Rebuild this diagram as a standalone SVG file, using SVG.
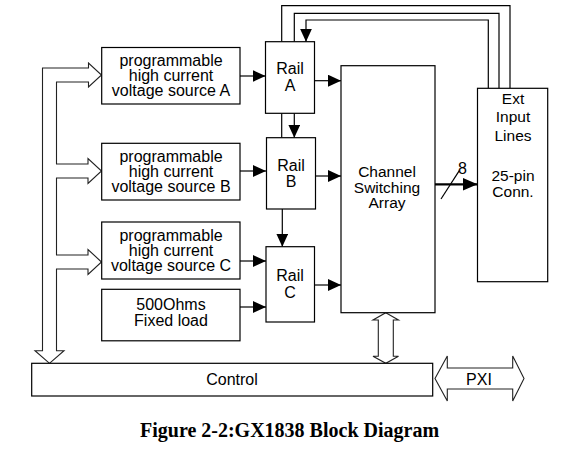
<svg xmlns="http://www.w3.org/2000/svg" width="572" height="460" viewBox="0 0 572 460">
<defs>
<style>
.box{fill:#fff;stroke:#000;stroke-width:1.2}
.ln{fill:none;stroke:#000;stroke-width:1.2}
.hol{fill:#fff;stroke:#222;stroke-width:1.1;stroke-linejoin:miter}
.t{font-family:"Liberation Sans",Arial,sans-serif;font-size:16px;fill:#000;text-anchor:middle}
.cap{font-family:"Liberation Serif","Times New Roman",serif;font-size:20px;font-weight:bold;fill:#000}
</style>
<marker id="ah" markerWidth="13" markerHeight="12" refX="13" refY="6" orient="auto" markerUnits="userSpaceOnUse"><path d="M0,0 L13,6 L0,12 z" fill="#000"/></marker>
<marker id="ah2" markerWidth="15" markerHeight="13" refX="15" refY="6.5" orient="auto" markerUnits="userSpaceOnUse"><path d="M0,0 L15,6.5 L0,13 z" fill="#000"/></marker>
</defs>
<rect width="572" height="460" fill="#fff"/>

<g id="connectors">
<!-- top loops -->
<path class="ln" d="M281.7,41.7 V5.7 H510 V88.3"/>
<path class="ln" d="M294.3,41.7 V13.3 H499 V88.3"/>
<path class="ln" d="M488.3,88.3 V20 H306 V41.7" marker-end="url(#ah)"/>
<!-- rail A to rail B -->
<path class="ln" d="M281.7,113.3 V137.7"/>
<path class="ln" d="M294.3,113.3 V137.7" marker-end="url(#ah)"/>
<!-- rail B to rail C -->
<path class="ln" d="M282.3,209 V246.7" marker-end="url(#ah)"/>
<!-- sources to rails -->
<path class="ln" d="M240,76 H265.5" marker-end="url(#ah)"/>
<path class="ln" d="M240,171 H266" marker-end="url(#ah)"/>
<path class="ln" d="M240,261 H266" marker-end="url(#ah)"/>
<path class="ln" d="M240,307 H266" marker-end="url(#ah)"/>
<!-- rails to CSA -->
<path class="ln" d="M314.5,80.7 H341" marker-end="url(#ah)"/>
<path class="ln" d="M315,176 H341" marker-end="url(#ah)"/>
<path class="ln" d="M315,285 H341" marker-end="url(#ah)"/>
<!-- 8-bit bus -->
<path d="M435,184.3 H477.5" fill="none" stroke="#000" stroke-width="2.2" marker-end="url(#ah2)"/>
<path class="ln" d="M441,199 L459.3,170.7"/>
<text class="t" x="462.5" y="174">8</text>
<!-- control bus (hollow) -->
<path class="hol" d="M42.5,68 H88.5 V63 L101.5,75 L88.5,87 V82 H56.5 V164 H88 V158.5 L101.5,171 L88,183.5 V178 H56.5 V255 H88 V249.5 L101.5,262 L88,274.5 V269 H56.5 V350.7 H64 L49.5,363.3 L35,350.7 H42.5 Z"/>
<!-- CSA to control -->
<path class="hol" d="M385.8,312.7 L398.5,320 H393.3 V356.3 H398.5 L385.8,363.3 L373,356.3 H378.3 V320 H373 Z"/>
<!-- PXI -->
<path class="hol" d="M435,378.5 L447.3,356 V368 H512.7 V356 L524,378.5 L512.7,401 V389 H447.3 V401 Z"/>
<text class="t" x="479" y="384.5">PXI</text>
</g>

<g id="srcA"><rect class="box" x="101.7" y="47.5" width="138.3" height="56.5"/>
<text class="t" x="171" y="66">programmable</text><text class="t" x="171" y="81">high current</text><text class="t" x="171" y="96">voltage source A</text></g>
<g id="srcB"><rect class="box" x="101.7" y="143.3" width="138.3" height="56.7"/>
<text class="t" x="171" y="161.5">programmable</text><text class="t" x="171" y="176.5">high current</text><text class="t" x="171" y="191.5">voltage source B</text></g>
<g id="srcC"><rect class="box" x="101.7" y="222" width="138.3" height="57"/>
<text class="t" x="171" y="240.5">programmable</text><text class="t" x="171" y="255.5">high current</text><text class="t" x="171" y="270.5">voltage source C</text></g>
<g id="load"><rect class="box" x="101.7" y="289.3" width="138.3" height="51.5"/>
<text class="t" x="171" y="310">500Ohms</text><text class="t" x="171" y="326">Fixed load</text></g>

<g id="railA"><rect class="box" x="265.5" y="41.7" width="49" height="71.6"/>
<text class="t" x="290" y="74">Rail</text><text class="t" x="290" y="90.5">A</text></g>
<g id="railB"><rect class="box" x="266.5" y="137.7" width="49" height="71.3"/>
<text class="t" x="291" y="170.7">Rail</text><text class="t" x="291" y="187">B</text></g>
<g id="railC"><rect class="box" x="266" y="246.7" width="48.5" height="75.3"/>
<text class="t" x="290" y="280.7">Rail</text><text class="t" x="290" y="297.5">C</text></g>

<g id="csa"><rect class="box" x="341" y="65.7" width="94" height="247"/>
<text class="t" x="387" y="177" style="font-size:15.5px">Channel</text><text class="t" x="387" y="192.5" style="font-size:15.5px">Switching</text><text class="t" x="387" y="208" style="font-size:15.5px">Array</text></g>

<g id="ext"><rect class="box" x="477.5" y="88.3" width="70.2" height="193.4"/>
<text class="t" x="513" y="104" style="font-size:15.5px">Ext</text><text class="t" x="513" y="122" style="font-size:15.5px">Input</text><text class="t" x="513" y="140.5" style="font-size:15.5px">Lines</text>
<text class="t" x="513" y="181" style="font-size:15.5px">25-pin</text><text class="t" x="513" y="197" style="font-size:15.5px">Conn.</text></g>

<g id="control"><rect class="box" x="31.7" y="363.3" width="401" height="32.7"/>
<text class="t" x="232" y="384.5">Control</text></g>

<text class="cap" x="140" y="437.3">Figure 2-2:GX1838 Block Diagram</text>
</svg>
